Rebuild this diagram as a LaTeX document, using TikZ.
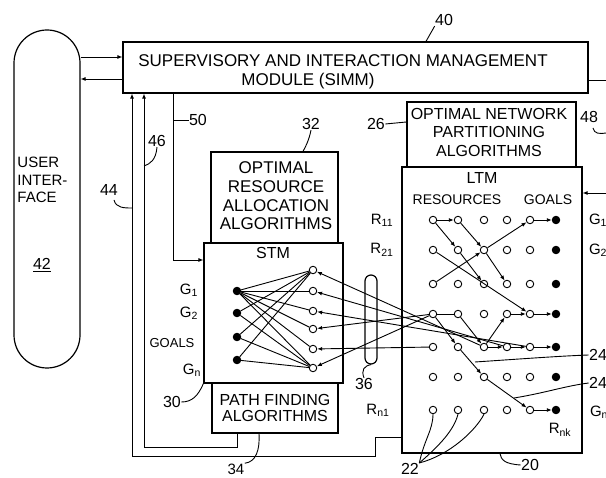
\documentclass[tikz,border=0pt]{standalone}
\usepackage{fontspec}
\setmainfont{Liberation Sans}
\usetikzlibrary{arrows.meta}

\begin{document}
\begin{tikzpicture}[x=1pt, y=-1pt, line width=0.9pt,
    box/.style={draw, line width=1.2pt, inner sep=0pt},
    txt/.style={align=center, inner sep=0pt, font=\fontsize{16}{18.5}\selectfont},
    num/.style={inner sep=0pt, font=\fontsize{16}{16}\selectfont},
    res/.style={draw, circle, fill=white, minimum size=7.5pt, inner sep=0pt},
    goal/.style={draw, circle, fill=black, minimum size=7.5pt, inner sep=0pt},
    arr/.style={-{Latex[length=5pt, width=4pt]}}
]
\useasboundingbox (0,0) rectangle (606,478);

% User interface
\node[box, rounded corners=33pt, minimum width=66pt, minimum height=338pt] (ui) at (47,199) {};
\node[txt, align=left, anchor=west, font=\fontsize{15}{17.5}\selectfont] (uitxt) at (17,180) {USER\\INTER-\\FACE};
\node[num] (n42) at (42,265) {\underline{42}};

% SIMM
\node[box, minimum width=465pt, minimum height=51pt] (simm) at (355.5,67.5) {};
\node[txt, font=\fontsize{17}{17}\selectfont] (simma) at (343,61) {SUPERVISORY AND INTERACTION MANAGEMENT};
\node[txt, font=\fontsize{17}{17}\selectfont] (simmb) at (308,81) {MODULE (SIMM)};
\node[num] (n40) at (444,20) {40};
\draw (simm.north -| 426,0) -- (n40.south west);

% Algorithm boxes
\node[box, minimum width=169pt, minimum height=65pt] (onpa) at (491.5,134.5) {};
\node[txt] (onpatxt) at (489,132) {OPTIMAL NETWORK\\PARTITIONING\\ALGORITHMS};
\node[box, minimum width=127pt, minimum height=91pt] (oraa) at (274.5,197.5) {};
\node[txt, font=\fontsize{17}{18.7}\selectfont] (oraatxt) at (276,196) {OPTIMAL\\RESOURCE\\ALLOCATION\\ALGORITHMS};
\node[box, minimum width=126pt, minimum height=50pt] (pf) at (275,408) {};
\node[txt, font=\fontsize{16}{16}\selectfont] (pftxt) at (275,408) {PATH FINDING\\ALGORITHMS};

% STM
\node[box, minimum width=139pt, minimum height=140pt] (stm) at (273.5,313) {};
\node[txt] (stmtxt) at (273,253) {STM};
\foreach \i/\yy in {1/291,2/313,3/337,4/360}
  \node[goal] (s\i) at (237,\yy) {};
\foreach \j/\yy in {1/270,2/291,3/311,4/329,5/349,6/368}
  \node[res] (t\j) at (313,\yy) {};
\foreach \j in {1,...,6}
  \draw (s1) -- (t\j);
\foreach \i in {2,3,4} {
  \draw (s\i) -- (t1);
  \draw (s\i) -- (t6);
}
\node[num, font=\fontsize{15}{15}\selectfont] (sg1) at (189,290) {G\textsubscript{1}};
\node[num, font=\fontsize{15}{15}\selectfont] (sg2) at (189,313) {G\textsubscript{2}};
\node[num, font=\fontsize{13}{13}\selectfont] (sgoals) at (172,343) {GOALS};
\node[num, font=\fontsize{15}{15}\selectfont] (sgn) at (192,370) {G\textsubscript{n}};

% LTM
\node[box, minimum width=180pt, minimum height=286pt] (ltm) at (492,310) {};
\node[txt] (ltmtxt) at (482,178) {LTM};
\node[txt, font=\fontsize{14}{14}\selectfont] (lres) at (457,200) {RESOURCES};
\node[txt, font=\fontsize{14}{14}\selectfont] (lgoals) at (548,200) {GOALS};
\foreach \rw/\yy in {1/220,2/250,3/284,4/314,5/347,6/377,7/410} {
  \foreach \cl/\xx in {1/433,2/458,3/484,4/507,5/530}
    \node[res] (g\rw\cl) at (\xx,\yy) {};
  \node[goal] (g\rw6) at (556,\yy) {};
}
\foreach \a/\b in {11/12,11/22,12/23,23/15,15/16,22/33,21/45,31/23,23/34,44/45,45/46,
                   41/52,42/53,53/44,53/54,54/55,55/56,52/63,63/75,75/76}
  \draw[arr] (g\a) -- (g\b);
\draw (g41) -- (g42);
\node[num, font=\fontsize{15}{15}\selectfont] (r11) at (382,220) {R\textsubscript{11}};
\node[num, font=\fontsize{15}{15}\selectfont] (r21) at (382,250) {R\textsubscript{21}};
\node[num, font=\fontsize{15}{15}\selectfont] (rn1) at (378,410) {R\textsubscript{n1}};
\node[num, font=\fontsize{15}{15}\selectfont] (rnk) at (560,430) {R\textsubscript{nk}};
\node[num, font=\fontsize{15}{15}\selectfont] (lg1) at (598,220) {G\textsubscript{1}};
\node[num, font=\fontsize{15}{15}\selectfont] (lg2) at (598,250) {G\textsubscript{2}};
\node[num, font=\fontsize{15}{15}\selectfont] (lgn) at (599,412) {G\textsubscript{n}};

% Link between STM and LTM
\node[box, rounded corners=6pt, minimum width=12pt, minimum height=89pt] (link) at (371,319.5) {};
\foreach \a/\b in {53/1,54/2,55/3,41/4,51/5,41/6}
  \draw[arr] (g\a) -- (t\b);

% Connections
\draw[arr] (ui.east |- 0,57) -- (simm.west |- 0,57);
\draw[arr] (simm.west |- 0,79) -- (ui.east |- 0,79);
\draw[arr] (ltm.west |- 0,437) -| (375,456) -| (simm.south -| 132,0);
\draw[arr] (pf.south -| 237,0) |- (144,447) -- (simm.south -| 144,0);
\draw[arr] (simm.south -| 173,0) |- (stm.west |- 0,260);
\coordinate (out48) at (606,80);
\coordinate (in48) at (606,193);
\draw (simm.east |- out48) -- (out48);
\draw[arr] (in48) -- (ltm.east |- in48);

% Reference numerals
\node[num] (n50) at (198,120) {50};
\draw (n50.west) -- ++(-15,0);
\node[num] (n46) at (157,141) {46};
\draw (n46.south) .. controls (156,160) and (150,164) .. (144,166);
\node[num] (n44) at (109,190) {44};
\draw (114,200) .. controls (116,208) and (124,208) .. (132,208);
\node[num] (n32) at (311,124) {32};
\draw (n32.south) .. controls (309,140) and (306,146) .. (oraa.north -| 303,0);
\node[num] (n26) at (376,124) {26};
\draw (n26.east) -- (onpa.west |- 0,122);
\node[num] (n48) at (589,117) {48};
\draw (593,128) .. controls (594,134) and (600,134) .. (606,133);
\node[num] (n30) at (172,402) {30};
\draw (n30.east) .. controls (192,402) and (198,396) .. (stm.south west);
\node[num, font=\fontsize{15}{15}\selectfont] (n34) at (236,469) {34};
\draw (n34.north east) .. controls (256,462) and (260,450) .. (pf.south -| 259,0);
\node[num] (n36) at (364,384) {36};
\draw (n36.north) .. controls (361,370) and (364,366) .. (link.south);
\node[num] (n22) at (410,469) {22};
\draw (n22.north east) .. controls (424,440) and (433,430) .. (g71.south);
\draw (n22.north east) .. controls (440,445) and (454,430) .. (g72.south);
\draw (n22.north east) .. controls (450,455) and (476,430) .. (g73.south);
\node[num] (n20) at (530,465) {20};
\draw (n20.west) .. controls (505,464) and (501,460) .. (ltm.south -| 500,0);
\node[num] (n24a) at (598,355) {24};
\draw (475,362) .. controls (520,359) and (560,356) .. (n24a.west);
\node[num] (n24b) at (598,383) {24};
\draw (514,398) .. controls (545,393) and (565,386) .. (n24b.west);
\end{tikzpicture}
\end{document}
